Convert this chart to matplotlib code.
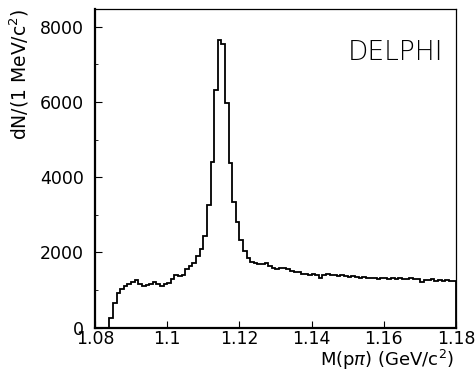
import numpy as np
import matplotlib
matplotlib.use("Agg")
import matplotlib.pyplot as plt
from matplotlib.ticker import MultipleLocator

# dN per 1 MeV bin, M(p pi) from 1.080 to 1.180 GeV
counts = [0, 0, 0, 0, 250, 650, 930, 1040, 1100, 1160,
          1210, 1270, 1170, 1120, 1140, 1160, 1210, 1150, 1120, 1150,
          1200, 1300, 1410, 1370, 1390, 1560, 1650, 1730, 1900, 2100,
          2450, 3260, 4410, 6320, 7650, 7540, 5960, 4370, 3350, 2800,
          2330, 2030, 1850, 1750, 1720, 1700, 1680, 1720, 1650, 1590,
          1560, 1580, 1600, 1550, 1500, 1490, 1480, 1440, 1420, 1400,
          1430, 1410, 1330, 1400, 1420, 1400, 1410, 1380, 1400, 1370,
          1350, 1380, 1340, 1330, 1340, 1310, 1320, 1330, 1300, 1320,
          1310, 1290, 1320, 1300, 1310, 1290, 1300, 1320, 1290, 1300,
          1220, 1280, 1270, 1300, 1250, 1280, 1230, 1270, 1250, 1240]
m_lo, m_hi = 1.08, 1.18
xticks = [1.08, 1.1, 1.12, 1.14, 1.16, 1.18]
xtick_labels = ["1.08", "1.1", "1.12", "1.14", "1.16", "1.18"]
yticks = [0, 2000, 4000, 6000, 8000]

edges = np.linspace(m_lo, m_hi, len(counts) + 1)

fig = plt.figure(figsize=(4.75, 3.71), dpi=100)
ax = fig.add_axes([0.2, 0.1167, 0.76, 0.859])

ax.stairs(counts, edges, baseline=0, color="black", linewidth=1.3)

ax.set_xlim(m_lo, m_hi)
ax.set_ylim(0, 8470)
ax.set_xticks(xticks)
ax.set_xticklabels(xtick_labels)
ax.set_yticks(yticks)
ax.yaxis.set_minor_locator(MultipleLocator(1000))

ax.tick_params(axis="both", which="major", direction="in", length=5,
               width=0.8, labelsize=12.5)
ax.tick_params(axis="y", which="major", pad=8)
ax.tick_params(axis="x", which="major", pad=2)
ax.tick_params(axis="y", which="minor", direction="in", length=2.5, width=0.6)

for side in ["left", "bottom"]:
    ax.spines[side].set_linewidth(1.6)
for side in ["top", "right"]:
    ax.spines[side].set_linewidth(0.9)

ax.set_ylabel("dN/(1 MeV/c$^2$)", fontsize=13.5, loc="top")
ax.yaxis.set_label_coords(-0.178, 1.0)
ax.set_xlabel("M(p$\\pi$) (GeV/c$^2$)", fontsize=13, loc="right")
ax.xaxis.set_label_coords(0.995, -0.062)

ax.text(0.964, 0.864, "DELPHI", transform=ax.transAxes, ha="right",
        va="center", fontsize=19, fontweight="light")

fig.savefig("out.png", dpi=100)
